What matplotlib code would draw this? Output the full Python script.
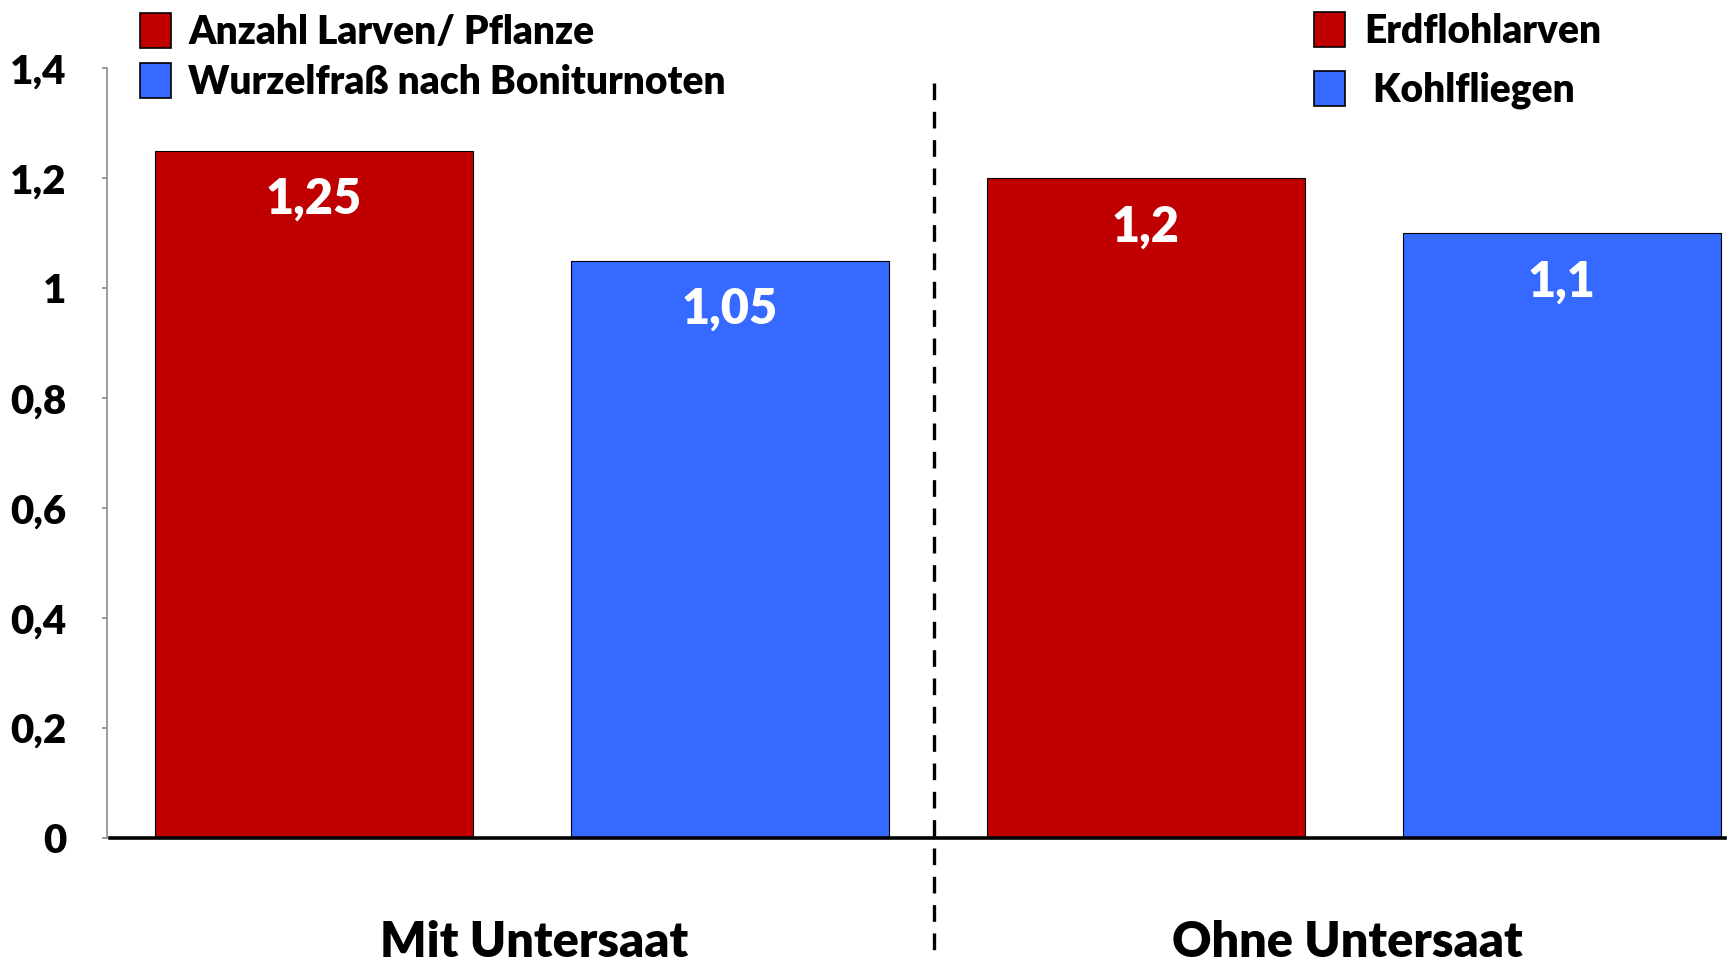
import matplotlib
matplotlib.use("Agg")
import matplotlib.pyplot as plt
from matplotlib.patches import Patch
from matplotlib.transforms import blended_transform_factory
from matplotlib.ticker import FixedLocator, FixedFormatter

plt.rcParams['font.family'] = ['Lato', 'DejaVu Sans']
plt.rcParams['font.weight'] = 'heavy'

# Data
groups = ["Mit Untersaat", "Ohne Untersaat"]
series = ["Anzahl Larven/ Pflanze", "Wurzelfraß nach Boniturnoten"]
pests = ["Erdflohlarven", " Kohlfliegen"]
red_values = [1.25, 1.2]
blue_values = [1.05, 1.1]
value_labels_red = ["1,25", "1,2"]
value_labels_blue = ["1,05", "1,1"]
yticks = [0, 0.2, 0.4, 0.6, 0.8, 1.0, 1.2, 1.4]
ytick_labels = ["0", "0,2", "0,4", "0,6", "0,8", "1", "1,2", "1,4"]

RED = "#C00000"
BLUE = "#3569FF"
WEIGHT = "heavy"

fig = plt.figure(figsize=(17.29, 9.6), dpi=100)
ax = fig.add_axes([107 / 1729, 122 / 960, 1 - 107 / 1729, (838 - 68.4) / 960])

width = 0.764
red_x = [0, 2]
blue_x = [1, 3]
ax.bar(red_x, red_values, width=width, color=RED, edgecolor="black", linewidth=0.8, zorder=2)
ax.bar(blue_x, blue_values, width=width, color=BLUE, edgecolor="black", linewidth=0.8, zorder=2)

for x, v, s in zip(red_x, red_values, value_labels_red):
    ax.text(x, v - 0.088, s, ha="center", va="center", color="white",
            fontsize=35, fontweight=WEIGHT, zorder=3)
for x, v, s in zip(blue_x, blue_values, value_labels_blue):
    ax.text(x, v - 0.088, s, ha="center", va="center", color="white",
            fontsize=35, fontweight=WEIGHT, zorder=3)

ax.set_xlim(-0.4976, 3.4015)
ax.set_ylim(0, 1.4)

for side in ("top", "right"):
    ax.spines[side].set_visible(False)
ax.spines["left"].set_color("#8c8c8c")
ax.spines["left"].set_linewidth(1.2)
ax.spines["bottom"].set_visible(False)
ax.plot([-0.49, 3.393], [0, 0], color="black", linewidth=2.6, clip_on=False, zorder=4)

ax.yaxis.set_major_locator(FixedLocator(yticks))
ax.yaxis.set_major_formatter(FixedFormatter(ytick_labels))
ax.tick_params(axis="y", length=3.5, width=1.2, color="#8c8c8c", pad=26,
               labelsize=29, labelcolor="black")
for lbl in ax.get_yticklabels():
    lbl.set_fontweight(WEIGHT)
ax.set_xticks([])

# Group separator, running down to the lower edge of the page
trans = blended_transform_factory(ax.transData, fig.transFigure)
ax.plot([1.49, 1.49], [1 - 83 / 960, -0.02], transform=trans, color="black",
        linewidth=2.4, linestyle=(0, (5, 3.5)), clip_on=False, zorder=5)

# Group labels at the lower edge of the page
for cx, g in zip([0.53, 2.485], groups):
    ax.text(cx, 0.003, g, transform=trans, ha="center", va="baseline",
            fontsize=35, fontweight=WEIGHT)

# Legends
h1 = [Patch(facecolor=RED, edgecolor="black", linewidth=1.2),
      Patch(facecolor=BLUE, edgecolor="black", linewidth=1.2)]
leg1 = fig.legend(h1, series, loc="upper left", bbox_to_anchor=(140 / 1729, 1 - 13 / 960),
                  frameon=False, fontsize=28, handlelength=0.79, handleheight=1.0,
                  handletextpad=0.45, labelspacing=0.32, borderpad=0, borderaxespad=0)
h2 = [Patch(facecolor=RED, edgecolor="black", linewidth=1.2),
      Patch(facecolor=BLUE, edgecolor="black", linewidth=1.2)]
leg2 = fig.legend(h2, pests, loc="upper left", bbox_to_anchor=(1314 / 1729, 1 - 12 / 960),
                  frameon=False, fontsize=28, handlelength=0.79, handleheight=1.0,
                  handletextpad=0.5, labelspacing=0.55, borderpad=0, borderaxespad=0)
for leg in (leg1, leg2):
    for t in leg.get_texts():
        t.set_fontweight(WEIGHT)

fig.savefig("out.png", dpi=100)
